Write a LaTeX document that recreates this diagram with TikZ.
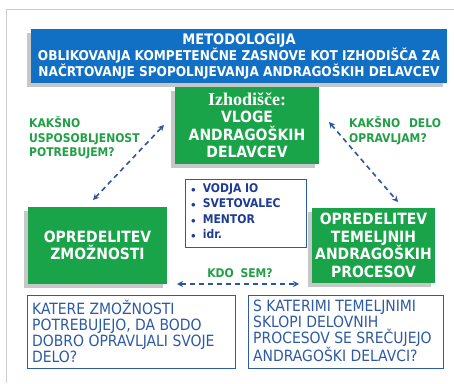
\documentclass[tikz,border=0pt]{standalone}
\usepackage{fontspec}
\setmainfont{DejaVu Sans Condensed}
\newfontfamily\serifb{Liberation Serif}
\usetikzlibrary{arrows.meta,shadows}
\definecolor{titleblue}{RGB}{18,112,196}
\definecolor{boxgreen}{RGB}{26,164,74}
\definecolor{labgreen}{RGB}{34,160,70}
\definecolor{navy}{RGB}{30,60,150}
\definecolor{txtblue}{RGB}{45,90,165}
\definecolor{arrowblue}{RGB}{45,85,160}
\definecolor{framegray}{RGB}{205,205,205}
\tikzset{
  shd/.style={drop shadow={shadow xshift=-4pt,shadow yshift=-4pt,fill=black!40,opacity=0.55}},
  titlebox/.style={fill=titleblue,shd,text=white,font=\bfseries\fontsize{13.5}{16}\selectfont,align=center,inner sep=0pt},
  greenbox/.style={fill=boxgreen,shd,text=white,font=\bfseries\fontsize{15.5}{17.5}\selectfont,align=center,inner sep=0pt},
  lab/.style={text=labgreen,font=\bfseries\fontsize{12}{14.5}\selectfont,align=left,inner sep=0pt},
  qbox/.style={draw=txtblue,line width=0.9pt,fill=white,inner sep=0pt},
  qtxt/.style={anchor=north west,text=txtblue,font=\fontsize{15.5}{16}\selectfont,align=left,inner sep=0pt},
  dar/.style={arrowblue,line width=1.6pt,dash pattern=on 5pt off 4pt,{Stealth[length=6pt,width=6pt]}-{Stealth[length=6pt,width=6pt]}}
}
\begin{document}
\begin{tikzpicture}[x=1pt,y=-1pt]
\useasboundingbox (0,0) rectangle (454,383);
\fill[white] (0,0) rectangle (454,383);
\draw[framegray,line width=1pt] (6,383) -- (6,9) -- (454,9);
% title
\node[titlebox,minimum width=416pt,minimum height=54pt] (title) at (239,56) {{\fontsize{14.5}{16}\selectfont METODOLOGIJA}\\OBLIKOVANJA KOMPETENČNE ZASNOVE KOT IZHODIŠČA ZA\\NAČRTOVANJE SPOPOLNJEVANJA ANDRAGOŠKIH DELAVCEV};
% top green
\node[greenbox,minimum width=144pt,minimum height=77pt] (top) at (247,125.5) {{\serifb\bfseries\fontsize{18}{17.5}\selectfont Izhodišče:}\\VLOGE\\ANDRAGOŠKIH\\DELAVCEV};
% left green
\node[greenbox,minimum width=139pt,minimum height=77pt] (left) at (97.5,245.5) {OPREDELITEV\\ZMOŽNOSTI};
% right green
\node[greenbox,minimum width=123pt,minimum height=75pt] (right) at (373.5,245.5) {OPREDELITEV\\TEMELJNIH\\ANDRAGOŠKIH\\PROCESOV};
% list
\node[draw=txtblue,line width=0.9pt,fill=white,minimum width=121pt,minimum height=68pt,inner sep=0pt] (list) at (245.5,213) {};
\node[anchor=north west,text=navy,font=\bfseries\fontsize{12}{15.3}\selectfont,align=left,inner sep=0pt] (listtxt) at (191,183.5) {{\small$\bullet$}\hspace{7pt}VODJA IO\\{\small$\bullet$}\hspace{7pt}SVETOVALEC\\{\small$\bullet$}\hspace{7pt}MENTOR\\{\small$\bullet$}\hspace{7pt}idr.};
% labels
\node[lab,anchor=north west] (l1) at (29,116.5) {KAKŠNO\\USPOSOBLJENOST\\POTREBUJEM?};
\node[lab,anchor=north west] (l2) at (349,116.5) {KAKŠNO\hspace{5pt} DELO\\OPRAVLJAM?};
\node[lab] (kdo) at (240,273) {KDO\hspace{3pt} SEM?};
% questions
\node[qbox,minimum width=208pt,minimum height=73pt] (q1) at (131,331.5) {};
\node[qtxt] (q1t) at (32,299.5) {KATERE ZMOŽNOSTI\\POTREBUJEJO, DA BODO\\DOBRO OPRAVLJALI SVOJE\\DELO?};
\node[qbox,minimum width=195pt,minimum height=73pt] (q2) at (345.5,331.5) {};
\node[qtxt] (q2t) at (253,299.5) {S KATERIMI TEMELJNIMI\\SKLOPI DELOVNIH\\PROCESOV SE SREČUJEJO\\ANDRAGOŠKI DELAVCI?};
% arrows
\coordinate (a1) at (93,200);
\coordinate (a2) at (164,125);
\coordinate (b1) at (329,122);
\coordinate (b2) at (398,202);
\coordinate (c1) at (177,284);
\coordinate (c2) at (299,284);
\draw[dar] (a1) -- (a2);
\draw[dar] (b1) -- (b2);
\draw[dar] (c1) -- (c2);
\end{tikzpicture}
\end{document}
